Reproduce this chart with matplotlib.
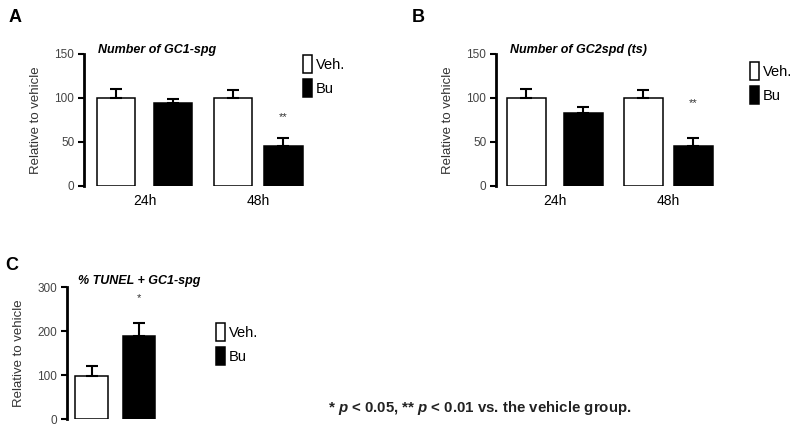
"""Bar charts: germ cell counts and TUNEL after busulfan treatment."""

import matplotlib

matplotlib.use("Agg")
import matplotlib.pyplot as plt
from matplotlib.patches import Patch

plt.rcParams["font.family"] = ["Liberation Sans", "DejaVu Sans"]
plt.rcParams["mathtext.fontset"] = "custom"
plt.rcParams["mathtext.bfit"] = "Liberation Sans:bold:italic"
plt.rcParams["mathtext.bf"] = "Liberation Sans:bold"

W, H = 799, 429

# data
time_points = ["24h", "48h"]
series = ["Veh.", "Bu"]

gc1_veh = [100, 100]
gc1_veh_err = [10, 9]
gc1_bu = [94, 46]
gc1_bu_err = [5, 9]
gc1_stars = ["", "**"]

gc2_veh = [100, 100]
gc2_veh_err = [10, 9]
gc2_bu = [83, 46]
gc2_bu_err = [7, 9]
gc2_stars = ["", "**"]

tunel_veh = [98]
tunel_veh_err = [22]
tunel_bu = [189]
tunel_bu_err = [29]
tunel_stars = ["*"]


def px_axes(fig, left, top, right, bottom):
    return fig.add_axes([left / W, 1 - bottom / H, (right - left) / W, (bottom - top) / H])


def style_axes(ax, ymax, yticks):
    for side in ("top", "right", "bottom"):
        ax.spines[side].set_visible(False)
    ax.spines["left"].set_linewidth(2.0)
    ax.set_ylim(0, ymax)
    ax.set_yticks(yticks)
    ax.tick_params(axis="y", direction="out", length=4, width=1.5, labelsize=8.5,
                   labelcolor="#444444", pad=3)
    ax.tick_params(axis="x", length=0, labelsize=10, pad=6)
    ax.set_ylabel("Relative to vehicle", fontsize=9.5, color="#333333", labelpad=9)


def draw_bars(ax, xs, vals, errs, color, stars=None, star_gap=0):
    ax.bar(xs, vals, width=0.68, color=color, edgecolor="black", linewidth=1.1, zorder=2)
    lower = [0] * len(vals)
    ax.errorbar(xs, vals, yerr=[lower, errs], fmt="none", ecolor="black",
                elinewidth=1.5, capsize=4.5, capthick=1.5, zorder=3)
    if stars:
        for x, v, e, s in zip(xs, vals, errs, stars):
            if s:
                ax.text(x, v + e + star_gap, s, ha="center", va="bottom",
                        fontsize=8, color="#333333")


def add_legend(ax, x_px, y_px):
    handles = [Patch(facecolor="white", edgecolor="black", linewidth=1.1),
               Patch(facecolor="black", edgecolor="black", linewidth=1.1)]
    ax.legend(handles, series, loc="upper left", bbox_to_anchor=(x_px / W, 1 - y_px / H),
              bbox_transform=ax.figure.transFigure, frameon=False, fontsize=10.5,
              handlelength=0.65, handleheight=1.5, handletextpad=0.25,
              labelspacing=0.45, borderpad=0, borderaxespad=0)


fig = plt.figure(figsize=(W / 100, H / 100), dpi=100)

# panel A
veh_x = [0, 2.05]
bu_x = [1, 2.93]
axA = px_axes(fig, 84, 54, 310, 186)
draw_bars(axA, veh_x, gc1_veh, gc1_veh_err, "white")
draw_bars(axA, bu_x, gc1_bu, gc1_bu_err, "black", stars=gc1_stars, star_gap=18)
style_axes(axA, 150, [0, 50, 100, 150])
axA.set_xlim(-0.56, 3.40)
axA.set_xticks([0.5, 2.49])
axA.set_xticklabels(time_points)
axA.set_title("Number of GC1-spg", fontsize=9, fontweight="bold", style="italic",
              loc="left", x=0.06, y=0.99, pad=2)
add_legend(axA, 303, 55)
fig.text(15 / W, 1 - 17 / H, "A", fontsize=13, fontweight="bold", va="center", ha="center")

# panel B
axB = px_axes(fig, 496, 54, 722, 186)
draw_bars(axB, veh_x, gc2_veh, gc2_veh_err, "white")
draw_bars(axB, bu_x, gc2_bu, gc2_bu_err, "black", stars=gc2_stars, star_gap=33)
style_axes(axB, 150, [0, 50, 100, 150])
axB.set_xlim(-0.53, 3.43)
axB.set_xticks([0.5, 2.49])
axB.set_xticklabels(time_points)
axB.set_title("Number of GC2spd (ts)", fontsize=9, fontweight="bold", style="italic",
              loc="left", x=0.06, y=0.99, pad=2)
add_legend(axB, 750, 62)
fig.text(418 / W, 1 - 17 / H, "B", fontsize=13, fontweight="bold", va="center", ha="center")

# panel C
axC = px_axes(fig, 67, 287, 200, 419)
draw_bars(axC, [0], tunel_veh, tunel_veh_err, "white")
draw_bars(axC, [1], tunel_bu, tunel_bu_err, "black", stars=tunel_stars, star_gap=45)
style_axes(axC, 300, [0, 100, 200, 300])
axC.set_xlim(-0.52, 2.3)
axC.set_xticks([])
axC.set_title("% TUNEL + GC1-spg", fontsize=9, fontweight="bold", style="italic",
              loc="left", x=0.08, y=1.0, pad=2)
add_legend(axC, 216, 323)
fig.text(12 / W, 1 - 265 / H, "C", fontsize=13, fontweight="bold", va="center", ha="center")

fig.text(328 / W, 1 - 408 / H,
         r"* $\bfit{p}$ < 0.05, ** $\bfit{p}$ < 0.01 vs. the vehicle group.",
         fontsize=10.8, fontweight="bold", va="center", ha="left", color="#222222")

fig.savefig("out.png", dpi=100)
